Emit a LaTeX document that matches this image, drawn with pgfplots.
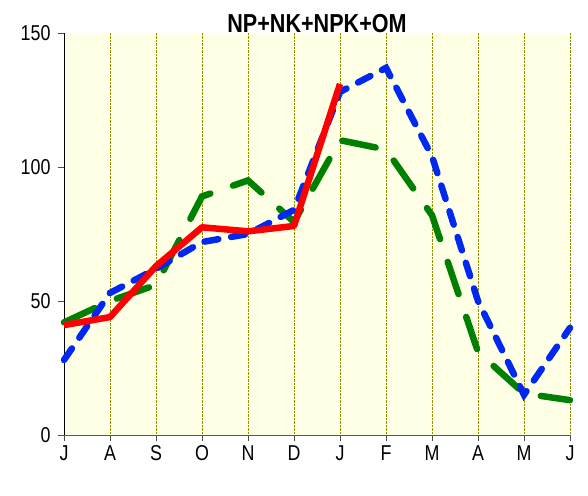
\documentclass[border=0pt]{standalone}
\usepackage{pgfplots}
\pgfplotsset{compat=1.18}
\usepackage{fontspec}
\setmainfont{Liberation Sans}[FakeStretch=0.83]
\definecolor{bgy}{HTML}{FFFFE6}
\definecolor{gridc}{HTML}{909000}
\definecolor{bl}{HTML}{0028F0}
\definecolor{gr}{HTML}{008000}
\begin{document}
\begin{tikzpicture}
\begin{axis}[
  name=ax,
  scale only axis,
  width=506pt, height=402pt,
  xmin=0, xmax=11, ymin=0, ymax=150,
  axis x line=bottom, axis y line=left,
  axis line style={-},
  x axis line style={draw=black!65, line width=0.8pt},
  y axis line style={draw=black, line width=0.8pt},
  axis background/.style={fill=bgy},
  xtick={0,...,11},
  xticklabels={J,A,S,O,N,D,J,F,M,A,M,J},
  ytick={0,50,100,150},
  tick align=outside,
  major tick length=6pt,
  tick style={black!70, line width=0.8pt},
  xmajorgrids=true,
  grid style={gridc, densely dotted, line width=0.6pt},
  /pgf/number format/assume math mode=true,
  ticklabel style={font=\fontsize{21.5}{24}\selectfont},
  xticklabel style={yshift=-1pt},
  yticklabel style={xshift=-4pt},
  title={\textbf{NP+NK+NPK+OM}},
  title style={font=\fontsize{26}{28}\selectfont, yshift=-9pt},
  clip=false,
]
\addplot[gr, line width=6.5pt, line cap=round, dash pattern=on 34pt off 24pt] coordinates {
(0,42) (1,50) (2,56) (3,89) (4,95) (5,79.5) (6,110) (7,106.5) (8,82) (9,31) (10,15.5) (11,13)};
\addplot[bl, line width=6.5pt, line cap=round, dash pattern=on 14pt off 13pt] coordinates {
(0,28) (1,53) (2,62) (3,72) (4,75) (5,84) (6,128) (7,137) (8,104) (9,50) (10,15) (11,40)};
\addplot[red, line width=6.5pt, line join=round] coordinates {
(0,41) (1,44) (2,63) (3,77.5) (4,76) (5,78) (6,131)};
\end{axis}
\path (ax.south west) ++(-64pt,-60pt) coordinate (bbA);
\path (ax.north east) ++(18pt,33pt) coordinate (bbB);
\path[use as bounding box] (bbA) rectangle (bbB);
\end{tikzpicture}
\end{document}
